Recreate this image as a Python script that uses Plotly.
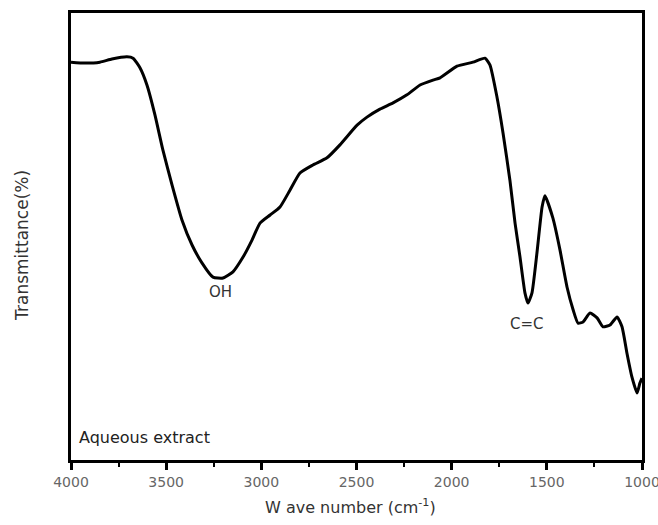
import plotly.graph_objects as go

wavenumber = [4000, 3926, 3848, 3785, 3706, 3674, 3637, 3601, 3559, 3517, 3469, 3417, 3364, 3312,
              3254, 3201, 3149, 3096, 3049, 3007, 2954, 2902, 2849, 2797, 2729, 2655, 2587, 2497,
              2445, 2377, 2308, 2235, 2166, 2098, 2061, 1972, 1888, 1825, 1799, 1762, 1730, 1694,
              1667, 1641, 1615, 1599, 1578, 1552, 1525, 1510, 1468, 1431, 1394, 1362, 1336, 1310,
              1273, 1236, 1205, 1168, 1131, 1105, 1079, 1053, 1026, 1011, 1000]
transmittance = [89.0, 88.8, 89.0, 89.7, 90.2, 89.9, 87.7, 83.9, 77.2, 69.3, 61.5, 53.7, 48.1, 44.1,
                 40.9, 40.7, 42.1, 45.4, 49.2, 53.0, 54.8, 56.6, 60.4, 64.2, 66.0, 67.6, 70.5, 74.9,
                 76.7, 78.5, 79.9, 81.7, 83.9, 85.0, 85.5, 88.1, 89.0, 89.9, 88.4, 81.2, 73.1, 62.6,
                 53.0, 45.4, 37.4, 35.1, 37.4, 46.3, 56.6, 59.1, 54.1, 47.0, 38.7, 33.6, 30.6, 30.9,
                 32.9, 31.8, 29.8, 30.2, 32.0, 29.8, 23.9, 18.6, 15.0, 17.2, 18.3]

x_ticks = [4000, 3500, 3000, 2500, 2000, 1500, 1000]
peak_labels = ["OH", "C=C"]
peak_x = [3215, 1604]
peak_y = [37.5, 30.4]

FONT = "DejaVu Sans, Verdana, sans-serif"

fig = go.Figure()
fig.add_trace(go.Scatter(x=wavenumber, y=transmittance, mode="lines",
                         line=dict(color="black", width=3, shape="spline", smoothing=0.5),
                         showlegend=False, hoverinfo="skip"))

for lab, px, py in zip(peak_labels, peak_x, peak_y):
    fig.add_annotation(x=px, y=py, text=lab, showarrow=False,
                       font=dict(family=FONT, size=15, color="#333"))

fig.add_annotation(x=3970, y=5.1, text="Aqueous extract", showarrow=False, xanchor="left",
                   font=dict(family=FONT, size=16, color="#222"))

fig.add_annotation(xref="paper", yref="paper", x=-0.086, y=0.481, text="Transmittance(%)",
                   textangle=-90, showarrow=False, xanchor="center", yanchor="middle",
                   font=dict(family=FONT, size=17, color="#333"))
fig.add_annotation(xref="paper", yref="paper", x=0.49, y=-0.105, text="W ave number (cm<sup>-1</sup>)",
                   showarrow=False, xanchor="center", yanchor="middle",
                   font=dict(family=FONT, size=16, color="#333"))

fig.update_layout(
    width=658, height=525,
    margin=dict(l=71, r=16, t=13, b=65),
    plot_bgcolor="white", paper_bgcolor="white",
    font=dict(family=FONT, color="#333"),
)
fig.update_xaxes(range=[4000, 1000], tickvals=x_ticks, ticks="outside", ticklen=7, tickwidth=2.5,
                 tickcolor="black", showline=True, linecolor="black", linewidth=2.5, mirror=True,
                 showgrid=False, zeroline=False, automargin=False, ticklabeloverflow="allow",
                 tickfont=dict(family=FONT, size=14, color="#666"),
                 minor=dict(dtick=250, ticks="outside", ticklen=4, tickwidth=2, tickcolor="black", showgrid=False))
fig.update_yaxes(range=[0, 100], showticklabels=False, ticks="", showline=True, linecolor="black",
                 linewidth=2.5, mirror=True, showgrid=False, zeroline=False, automargin=False)

fig.write_html("out.html", config={"displayModeBar": False})

# remove the browser's default body margin so the figure sits at the page origin
with open("out.html", "r", encoding="utf-8") as f:
    html = f.read()
html = html.replace("<head>", "<head><style>html,body{margin:0;padding:0;overflow:hidden;}</style>", 1)
with open("out.html", "w", encoding="utf-8") as f:
    f.write(html)
